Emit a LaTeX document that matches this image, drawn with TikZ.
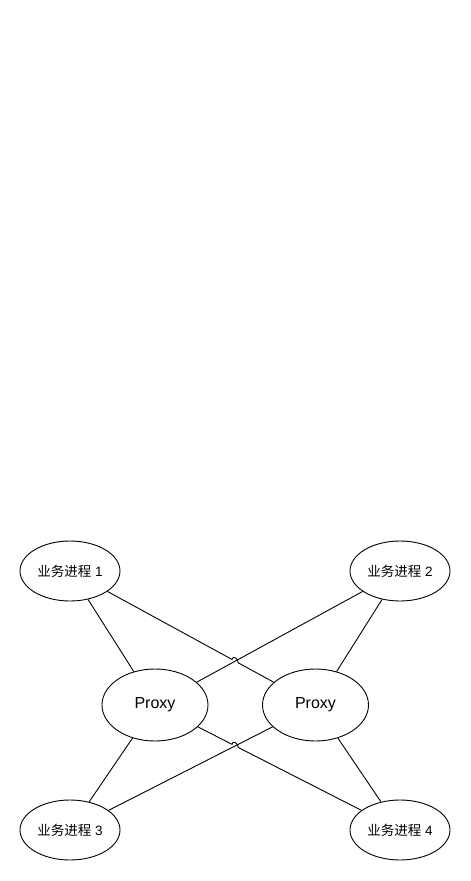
\documentclass[tikz,border=0pt]{standalone}
\usepackage{fontspec}
\setmainfont{Liberation Sans}
\newfontfamily\cjk{Noto Sans CJK SC}
\usetikzlibrary{shapes.geometric,intersections,calc}
\begin{document}
\begin{tikzpicture}[x=1pt,y=-1pt,
  proc/.style={draw,ellipse,line width=0.9pt,minimum width=100pt,minimum height=60pt,inner sep=0pt,font=\fontsize{13.5}{16}\selectfont},
  proxy/.style={draw,ellipse,line width=0.9pt,minimum width=106pt,minimum height=72pt,inner sep=0pt,font=\fontsize{16}{19}\selectfont},
  conn/.style={line width=0.9pt}]
\useasboundingbox (0,0) rectangle (471,881);
\node[proc] (e1) at (70,571) {{\cjk 业务进程} 1};
\node[proc] (e2) at (400,571) {{\cjk 业务进程} 2};
\node[proc] (e3) at (70,830) {{\cjk 业务进程} 3};
\node[proc] (e4) at (400,830) {{\cjk 业务进程} 4};
\node[proxy] (p1) at (155,705) {Proxy};
\node[proxy] (p2) at (315.5,705) {Proxy};
% invisible helper paths for crossings
\path[name path=la] (e1) -- (p2);
\path[name path=lb] (e2) -- (p1);
\path[name path=lc] (p1) -- (e4);
\path[name path=ld] (p2) -- (e3);
\path[name intersections={of=la and lb, by=X1}];
\path[name intersections={of=lc and ld, by=X2}];
\coordinate (j1a) at ($(X1)!3.5pt!(e1)$);
\coordinate (j1b) at ($(X1)!3.5pt!(p2)$);
\coordinate (j2a) at ($(X2)!3.5pt!(p1)$);
\coordinate (j2b) at ($(X2)!3.5pt!(e4)$);
% straight connectors
\draw[conn] (e1) -- (p1);
\draw[conn] (e2) -- (p2);
\draw[conn] (e2) -- (p1);
\draw[conn] (p1) -- (e3);
\draw[conn] (p2) -- (e4);
\draw[conn] (p2) -- (e3);
% connectors with line jumps
\draw[conn] (e1) -- (j1a) .. controls ($(j1a)+(0,-4.5)$) and ($(j1b)+(0,-4.5)$) .. (j1b) -- (p2);
\draw[conn] (p1) -- (j2a) .. controls ($(j2a)+(0,-4.5)$) and ($(j2b)+(0,-4.5)$) .. (j2b) -- (e4);
\end{tikzpicture}
\end{document}
